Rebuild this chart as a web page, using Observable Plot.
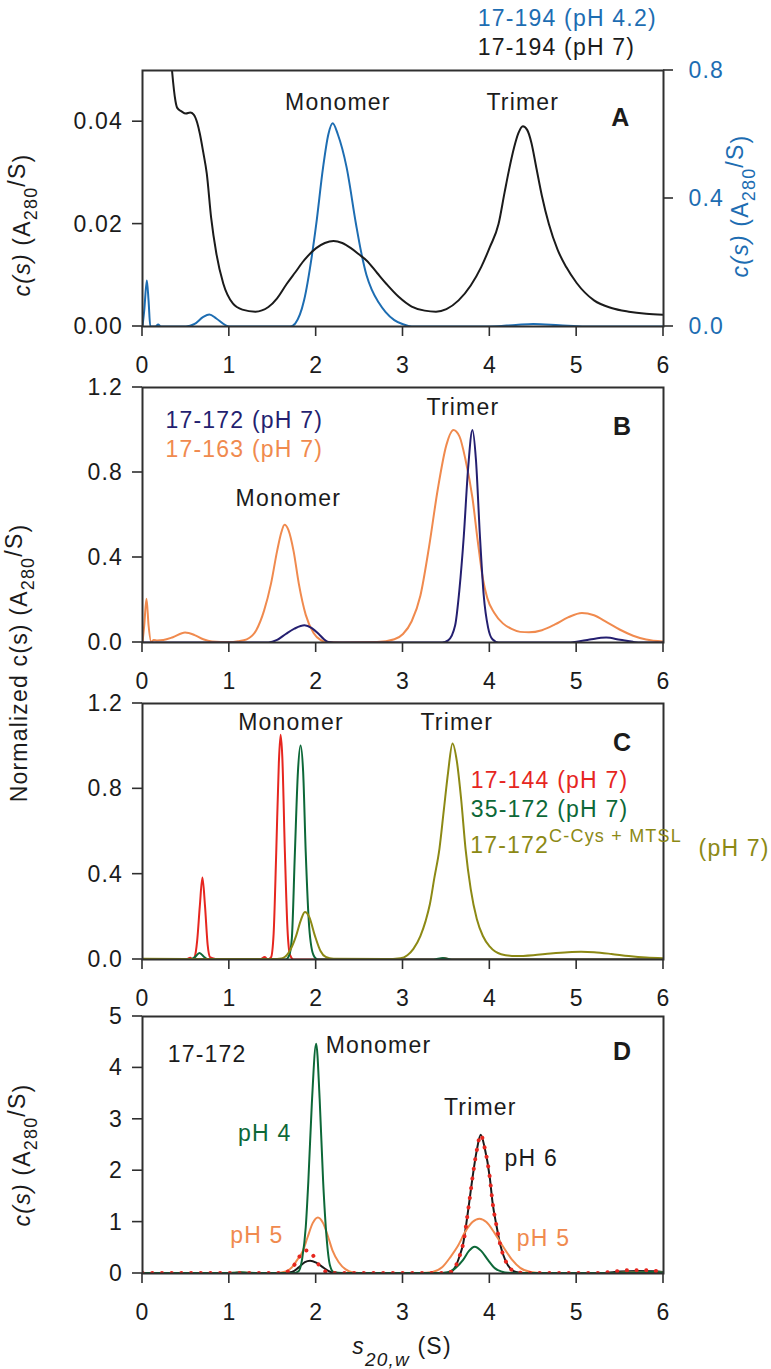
<!DOCTYPE html>
<html><head><meta charset="utf-8">
<script src="https://cdn.jsdelivr.net/npm/d3@7"></script>
<script src="https://cdn.jsdelivr.net/npm/@observablehq/plot@0.6"></script>
<style>
body{margin:0;background:#fff;}
#wrap{position:relative;width:771px;height:1369px;overflow:hidden;background:#fff;}
</style></head><body><div id="wrap"></div>
<script>
// ---------------- data ----------------
const xTicks = [0, 1, 2, 3, 4, 5, 6];
const aLeftTicks = [0, 0.02, 0.04];
const aRightTicks = [0, 0.4, 0.8];
const bcTicks = [0, 0.4, 0.8, 1.2];
const dTicks = [0, 1, 2, 3, 4, 5];

// Panel A: 17-194 pH 7 (left axis)
const aBlack = [[0,0.9],[0.1,0.25],[0.2,0.11],[0.28,0.065],[0.34,0.05],[0.38,0.044],[0.40,0.0427],[0.45,0.042],[0.50,0.0416],[0.55,0.0418],[0.59,0.0414],[0.63,0.0398],[0.66,0.0377],[0.70,0.034],[0.74,0.0299],[0.79,0.0213],[0.85,0.0143],[0.93,0.0084],[1.04,0.0045],[1.15,0.0033],[1.30,0.0029],[1.45,0.0038],[1.55,0.0055],[1.66,0.0083],[1.76,0.0106],[1.86,0.0129],[2.0,0.0153],[2.1,0.0163],[2.2,0.0167],[2.3,0.0163],[2.4,0.0153],[2.5,0.014],[2.58,0.0129],[2.7,0.0105],[2.81,0.0083],[2.95,0.0058],[3.1,0.0039],[3.25,0.0031],[3.38,0.0029],[3.5,0.0034],[3.64,0.0051],[3.78,0.008],[3.90,0.0116],[4.0,0.0155],[4.1,0.02],[4.17,0.0262],[4.22,0.0305],[4.28,0.0350],[4.33,0.0378],[4.38,0.0391],[4.43,0.0384],[4.48,0.0358],[4.53,0.0315],[4.60,0.0255],[4.68,0.02],[4.78,0.015],[4.88,0.0116],[5.0,0.0085],[5.2,0.0051],[5.4,0.0036],[5.6,0.0029],[5.8,0.0025],[6.0,0.0023]];
// Panel A: 17-194 pH 4.2 (right axis units)
const aBlue = [[0,0],[0.02,0.05],[0.05,0.144],[0.07,0.08],[0.09,0],[0.15,0],[0.18,0.006],[0.21,0],[0.5,0],[0.6,0.008],[0.7,0.03],[0.77,0.0375],[0.85,0.025],[0.95,0.005],[1.0,0],[1.7,0],[1.76,0.01],[1.86,0.081],[1.95,0.22],[2.0,0.318],[2.08,0.498],[2.14,0.6],[2.19,0.635],[2.25,0.6],[2.35,0.498],[2.46,0.318],[2.52,0.23],[2.58,0.16],[2.64,0.115],[2.72,0.075],[2.8,0.045],[2.9,0.02],[3.0,0.007],[3.1,0],[4.0,0],[4.3,0.005],[4.5,0.008],[4.8,0.004],[5.1,0],[6,0]];

// Panel B
const bNavy = [[0,0],[1.45,0],[1.55,0.012],[1.65,0.04],[1.75,0.065],[1.865,0.081],[1.95,0.068],[2.03,0.04],[2.09,0.015],[2.14,0.002],[2.2,0],[3.45,0],[3.52,0.01],[3.60,0.08],[3.65,0.25],[3.70,0.5],[3.75,0.82],[3.80,1.0],[3.84,0.86],[3.886,0.5],[3.93,0.22],[3.98,0.07],[4.03,0.015],[4.10,0],[4.9,0],[5.0,0.004],[5.15,0.014],[5.34,0.023],[5.5,0.013],[5.65,0.003],[5.75,0],[6,0]];
const bOrange = [[0,0],[0.02,0.08],[0.046,0.206],[0.07,0.08],[0.1,0.003],[0.13,0.012],[0.17,0.01],[0.24,0.012],[0.35,0.025],[0.49,0.047],[0.6,0.035],[0.7,0.015],[0.8,0.005],[1.0,0.002],[1.1,0.006],[1.2,0.015],[1.31,0.058],[1.40,0.15],[1.48,0.277],[1.55,0.43],[1.60,0.52],[1.635,0.554],[1.68,0.53],[1.74,0.43],[1.80,0.277],[1.88,0.13],[1.97,0.045],[2.05,0.012],[2.11,0.003],[2.3,0],[2.7,0.002],[2.9,0.015],[3.0,0.04],[3.1,0.1],[3.2,0.22],[3.3,0.45],[3.4,0.72],[3.5,0.93],[3.58,1.0],[3.65,0.97],[3.72,0.86],[3.8,0.68],[3.86,0.48],[3.92,0.3],[3.97,0.21],[4.05,0.14],[4.15,0.09],[4.25,0.064],[4.35,0.05],[4.45,0.048],[4.6,0.058],[4.75,0.085],[4.9,0.118],[5.06,0.139],[5.2,0.128],[5.35,0.095],[5.5,0.06],[5.65,0.032],[5.8,0.014],[6.0,0.004]];

// Panel C
const cRed = [[0,0],[0.5,0],[0.55,0.008],[0.58,0],[0.6,0.01],[0.63,0.09],[0.66,0.25],[0.69,0.384],[0.72,0.25],[0.75,0.07],[0.78,0.01],[0.82,0.005],[0.86,0],[1.35,0],[1.41,0.012],[1.44,0],[1.48,0.01],[1.51,0.12],[1.54,0.5],[1.57,0.92],[1.59,1.053],[1.61,0.95],[1.64,0.5],[1.67,0.14],[1.70,0.02],[1.74,0],[3.4,0],[3.48,0.006],[3.55,0],[6,0]];
const cGreen = [[0,0],[0.55,0],[0.6,0.01],[0.656,0.031],[0.71,0.012],[0.76,0],[1.65,0],[1.69,0.02],[1.72,0.1],[1.755,0.5],[1.79,0.88],[1.82,1.003],[1.85,0.88],[1.88,0.5],[1.92,0.15],[1.97,0.02],[2.02,0],[3.35,0],[3.46,0.007],[3.56,0],[6,0]];
const cOlive = [[0,0.003],[0.5,0.002],[1.5,0.002],[1.6,0.005],[1.68,0.03],[1.77,0.112],[1.82,0.18],[1.87,0.223],[1.92,0.2],[1.985,0.112],[2.05,0.04],[2.11,0.012],[2.2,0.003],[2.8,0.002],[2.97,0.006],[3.05,0.02],[3.12,0.05],[3.2,0.11],[3.26,0.18],[3.31,0.26],[3.36,0.38],[3.42,0.52],[3.47,0.70],[3.52,0.88],[3.57,1.013],[3.62,0.93],[3.67,0.75],[3.72,0.52],[3.78,0.33],[3.85,0.19],[3.92,0.11],[4.0,0.06],[4.13,0.025],[4.3,0.016],[4.5,0.02],[4.7,0.028],[4.9,0.034],[5.05,0.036],[5.2,0.034],[5.4,0.026],[5.6,0.016],[5.8,0.009],[6.0,0.006]];

// Panel D (17-172)
const dGreen = [[0,0.01],[0.9,0.01],[1.05,0.015],[1.13,0.025],[1.22,0.015],[1.4,0.01],[1.74,0.01],[1.8,0.05],[1.84,0.3],[1.88,0.9],[1.91,1.8],[1.95,3.3],[2.0,4.47],[2.04,3.4],[2.08,1.8],[2.12,0.7],[2.16,0.15],[2.2,0.03],[2.3,0.01],[3.45,0.01],[3.51,0.02],[3.6,0.1],[3.69,0.26],[3.76,0.44],[3.825,0.52],[3.9,0.44],[3.98,0.26],[4.06,0.1],[4.14,0.035],[4.21,0.015],[4.3,0.01],[5.3,0.01],[5.6,0.02],[5.85,0.03],[6,0.02]];
const dOrange = [[0,0.01],[1.0,0.01],[1.13,0.02],[1.3,0.01],[1.55,0.01],[1.65,0.04],[1.72,0.12],[1.78,0.26],[1.847,0.44],[1.9,0.7],[1.96,0.98],[2.02,1.09],[2.08,0.98],[2.14,0.7],[2.19,0.44],[2.26,0.22],[2.34,0.08],[2.43,0.02],[2.55,0.01],[3.2,0.01],[3.34,0.03],[3.45,0.12],[3.55,0.33],[3.63,0.53],[3.72,0.82],[3.8,1.0],[3.88,1.065],[3.96,1.0],[4.05,0.8],[4.15,0.53],[4.25,0.28],[4.35,0.11],[4.47,0.03],[4.6,0.01],[5.4,0.01],[5.7,0.03],[6,0.02]];
const dBlack = [[0,0.01],[1.6,0.01],[1.72,0.03],[1.8,0.12],[1.87,0.22],[1.93,0.247],[2.0,0.21],[2.07,0.13],[2.14,0.05],[2.2,0.015],[2.3,0.01],[3.45,0.01],[3.55,0.03],[3.6,0.12],[3.65,0.33],[3.69,0.56],[3.76,1.35],[3.8,1.86],[3.85,2.4],[3.895,2.7],[3.94,2.45],[4.0,1.86],[4.03,1.4],[4.08,0.9],[4.12,0.56],[4.18,0.25],[4.24,0.09],[4.3,0.03],[4.4,0.01],[5.3,0.01],[5.5,0.04],[5.7,0.05],[5.9,0.045],[6,0.03]];
const dRed = [[0,0.01],[1.6,0.01],[1.7,0.06],[1.78,0.25],[1.86,0.44],[1.91,0.45],[1.96,0.36],[2.03,0.17],[2.12,0.03],[2.2,0.01],[3.45,0.01],[3.55,0.03],[3.6,0.12],[3.65,0.33],[3.69,0.56],[3.76,1.35],[3.8,1.86],[3.85,2.4],[3.895,2.7],[3.94,2.45],[4.0,1.86],[4.03,1.4],[4.08,0.9],[4.12,0.56],[4.18,0.25],[4.24,0.09],[4.3,0.03],[4.4,0.01],[5.2,0.01],[5.4,0.03],[5.55,0.06],[5.75,0.065],[5.9,0.05],[6,0.03]];

// ---------------- style ----------------
const BLUE = "#1d6db2", NAVY = "#241f70", ORANGE = "#f08a4e", RED = "#e6261f",
      GREEN = "#0d6838", OLIVE = "#8c8914", INK = "#1b1b1b", FRAME = "#2f2f2f";
const FONT = '"Liberation Sans", Arial, Helvetica, sans-serif';
const FS = 23, LS = "1.2px";
const W = 771, ML = 142, MR = 108;
const STYLE = {fontFamily: FONT, fontSize: FS + "px", letterSpacing: LS, overflow: "visible", background: "transparent", color: FRAME};
const wrap = document.getElementById("wrap");
const X = d => d[0], Y = d => d[1];
const lineOpts = {x: X, y: Y, strokeWidth: 2, curve: "monotone-x", clip: true};

const xScale = {domain: [0, 6], axis: null};
const yScale = domain => ({domain, axis: null});

function place(svg, top) {
  svg.style.position = "absolute"; svg.style.left = "0px"; svg.style.top = top + "px";
  wrap.appendChild(svg);
  return svg;
}
// ticks and tick labels drawn from the plot's own scales
function axes(svg, yTicks, yFmt) {
  const sx = svg.scale("x"), sy = svg.scale("y");
  const y0 = sy.apply(sy.domain[0]), x0 = sx.apply(sx.domain[0]);
  const g = d3.select(svg).append("g").attr("font-family", FONT).attr("font-size", FS)
    .style("letter-spacing", LS).attr("fill", INK);
  const lines = g.append("g").attr("stroke", FRAME).attr("stroke-width", 1.6);
  for (const t of xTicks) {
    const x = sx.apply(t);
    lines.append("line").attr("x1", x).attr("x2", x).attr("y1", y0).attr("y2", y0 + 10);
    g.append("text").attr("x", x + 0.6).attr("y", y0 + 47).attr("text-anchor", "middle").text(d3.format("d")(t));
  }
  for (const t of yTicks) {
    const y = sy.apply(t);
    lines.append("line").attr("x1", x0 - 10).attr("x2", x0).attr("y1", y).attr("y2", y);
    g.append("text").attr("x", x0 - 19).attr("y", y + 8).attr("text-anchor", "end").text(yFmt(t));
  }
}
// rich text (sub/superscripts) appended in pixel space of a plot svg
function rich(svg, x, y, parts, {rotate = 0, anchor = "middle", color = INK} = {}) {
  const t = d3.select(svg).append("text")
    .attr("transform", `translate(${x},${y}) rotate(${rotate})`)
    .attr("text-anchor", anchor).attr("fill", color)
    .attr("font-family", FONT).attr("font-size", FS).style("letter-spacing", LS);
  for (const p of parts) {
    const s = t.append("tspan").text(p.t);
    if (p.dy) s.attr("dy", p.dy);
    if (p.dx) s.attr("dx", p.dx);
    if (p.size) s.attr("font-size", p.size);
    if (p.italic) s.attr("font-style", "italic");
  }
  return t;
}
const csLabel = (prefix, italic) => [
  ...(prefix ? [{t: prefix}] : []),
  {t: "c(s)", italic}, {t: " (A"}, {t: "280", size: 18, dy: 7}, {t: "/S", dy: -12}, {t: ")", dy: 5}
];

// ---------------- Panel A ----------------
const aK = 0.05 / 0.8; // right axis -> left axis
const A_TOP = 0;
const pA = Plot.plot({
  width: W, height: 380, marginTop: 70, marginBottom: 54, marginLeft: ML, marginRight: MR,
  x: xScale, y: yScale([0, 0.05]), style: STYLE,
  marks: [
    Plot.line(aBlue, {...lineOpts, y: d => d[1] * aK, stroke: BLUE}),
    Plot.line(aBlack, {...lineOpts, stroke: INK}),
    Plot.frame({stroke: FRAME, strokeWidth: 2}),
    Plot.text(aRightTicks, {y: d => d * aK, x: 6, dx: 25, text: d => d3.format(".1f")(d), textAnchor: "start", fill: BLUE}),
    Plot.text(["Monomer"], {x: 2.25, y: 0.04375, fill: INK}),
    Plot.text(["Trimer"], {x: 4.38, y: 0.04375, fill: INK}),
    Plot.text(["A"], {x: 5.51, y: 0.0408, fontWeight: "bold", fontSize: 25, fill: INK}),
    Plot.text(["17-194 (pH 4.2)"], {x: 3.86, y: 0.0602, textAnchor: "start", fill: BLUE}),
    Plot.text(["17-194 (pH 7)"], {x: 3.86, y: 0.0545, textAnchor: "start", fill: INK})
  ]
});
place(pA, A_TOP);
axes(pA, aLeftTicks, d3.format(".2f"));
{
  const sy = pA.scale("y"), sx = pA.scale("x");
  const g = d3.select(pA).append("g").attr("stroke", FRAME).attr("stroke-width", 1.6);
  for (const v of aRightTicks) {
    const yy = sy.apply(v * aK);
    g.append("line").attr("x1", sx.apply(6)).attr("x2", sx.apply(6) + 10).attr("y1", yy).attr("y2", yy);
  }
}
rich(pA, 30, 217 - A_TOP + 8, csLabel(null, true), {rotate: -90});
rich(pA, 748, 198 - A_TOP + 8, csLabel(null, true), {rotate: -90, color: BLUE});

// ---------------- Panel B ----------------
const B_TOP = 347;
const pB = Plot.plot({
  width: W, height: 349, marginTop: 40, marginBottom: 54, marginLeft: ML, marginRight: MR,
  x: xScale, y: yScale([0, 1.2]), style: STYLE,
  marks: [
    Plot.line(bOrange, {...lineOpts, stroke: ORANGE}),
    Plot.line(bNavy, {...lineOpts, stroke: NAVY}),
    Plot.frame({stroke: FRAME, strokeWidth: 2}),
    Plot.text(["17-172 (pH 7)"], {x: 0.265, y: 1.045, textAnchor: "start", fill: NAVY}),
    Plot.text(["17-163 (pH 7)"], {x: 0.265, y: 0.909, textAnchor: "start", fill: ORANGE}),
    Plot.text(["Trimer"], {x: 3.69, y: 1.103, fill: INK}),
    Plot.text(["Monomer"], {x: 1.68, y: 0.678, fill: INK}),
    Plot.text(["B"], {x: 5.53, y: 1.013, fontWeight: "bold", fontSize: 25, fill: INK})
  ]
});
place(pB, B_TOP);
axes(pB, bcTicks, d3.format(".1f"));
rich(pB, 27, 655 - B_TOP + 8, csLabel("Normalized ", false), {rotate: -90});

// ---------------- Panel C ----------------
const C_TOP = 663;
const pC = Plot.plot({
  width: W, height: 350, marginTop: 40, marginBottom: 54, marginLeft: ML, marginRight: MR,
  x: xScale, y: yScale([0, 1.2]), style: STYLE,
  marks: [
    Plot.line(cRed, {...lineOpts, stroke: RED}),
    Plot.line(cGreen, {...lineOpts, stroke: GREEN}),
    Plot.line(cOlive, {...lineOpts, stroke: OLIVE}),
    Plot.frame({stroke: FRAME, strokeWidth: 2}),
    Plot.text(["Monomer"], {x: 1.71, y: 1.112, fill: INK}),
    Plot.text(["Trimer"], {x: 3.62, y: 1.112, fill: INK}),
    Plot.text(["C"], {x: 5.53, y: 1.014, fontWeight: "bold", fontSize: 25, fill: INK}),
    Plot.text(["17-144 (pH 7)"], {x: 3.78, y: 0.84, textAnchor: "start", fill: RED}),
    Plot.text(["35-172 (pH 7)"], {x: 3.78, y: 0.704, textAnchor: "start", fill: GREEN})
  ]
});
place(pC, C_TOP);
axes(pC, bcTicks, d3.format(".1f"));
{
  const sx = pC.scale("x"), sy = pC.scale("y");
  rich(pC, sx.apply(3.78), sy.apply(0.536) + 8,
    [{t: "17-172"}, {t: "C-Cys + MTSL", size: 18, dy: -11}, {t: " (pH 7)", dy: 14, dx: 9}],
    {anchor: "start", color: OLIVE});
}

// ---------------- Panel D ----------------
const D_TOP = 976;
const pD = Plot.plot({
  width: W, height: 350, marginTop: 40, marginBottom: 53, marginLeft: ML, marginRight: MR,
  x: xScale, y: yScale([0, 5]), style: STYLE,
  marks: [
    Plot.line(dBlack, {...lineOpts, stroke: INK}),
    Plot.line(dOrange, {...lineOpts, stroke: ORANGE}),
    Plot.line(dGreen, {...lineOpts, stroke: GREEN}),
    Plot.line(dRed, {...lineOpts, stroke: RED, strokeWidth: 4, strokeDasharray: "0.1 9.6", strokeLinecap: "round"}),
    Plot.frame({stroke: FRAME, strokeWidth: 2}),
    Plot.text(["17-172"], {x: 0.29, y: 4.26, textAnchor: "start", fill: INK}),
    Plot.text(["Monomer"], {x: 2.11, y: 4.43, textAnchor: "start", fill: INK}),
    Plot.text(["D"], {x: 5.53, y: 4.30, fontWeight: "bold", fontSize: 25, fill: INK}),
    Plot.text(["Trimer"], {x: 3.89, y: 3.23, fill: INK}),
    Plot.text(["pH 4"], {x: 1.10, y: 2.72, textAnchor: "start", fill: GREEN}),
    Plot.text(["pH 6"], {x: 4.17, y: 2.23, textAnchor: "start", fill: INK}),
    Plot.text(["pH 5"], {x: 1.01, y: 0.73, textAnchor: "start", fill: ORANGE}),
    Plot.text(["pH 5"], {x: 4.31, y: 0.68, textAnchor: "start", fill: ORANGE})
  ]
});
place(pD, D_TOP);
axes(pD, dTicks, d3.format("d"));
rich(pD, 30, 1147 - D_TOP + 8, csLabel(null, true), {rotate: -90});
rich(pD, 402, 1354 - D_TOP,
  [{t: "s", italic: true}, {t: "20,w", italic: true, size: 19, dy: 12}, {t: " (S)", dy: -12}]);
</script></body></html>
